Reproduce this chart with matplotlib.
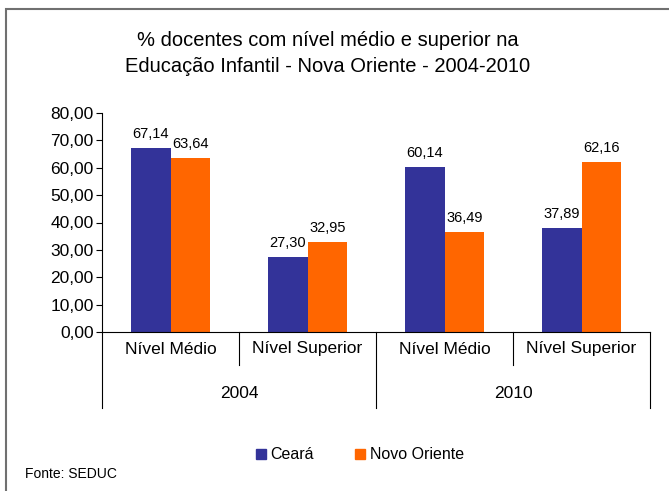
import matplotlib
matplotlib.use("Agg")
import matplotlib.pyplot as plt
from matplotlib.patches import Rectangle, Patch

plt.rcParams['font.family'] = ['Liberation Sans', 'DejaVu Sans']

# data
years = ['2004', '2010']
levels = ['Nível Médio', 'Nível Superior', 'Nível Médio', 'Nível Superior']
ceara = [67.14, 27.30, 60.14, 37.89]
novo_oriente = [63.64, 32.95, 36.49, 62.16]
series_names = ['Ceará', 'Novo Oriente']
yticks = [0, 10, 20, 30, 40, 50, 60, 70, 80]

blue = '#333399'
orange = '#FF6600'

def br(v, nd=2):
    return f'{v:.{nd}f}'.replace('.', ',')

fig = plt.figure(figsize=(6.69, 4.91), dpi=100)
ax = fig.add_axes([102 / 669, 1 - 332 / 491, 548 / 669, 219 / 491])

x = list(range(len(levels)))
w = 0.29
xb = [i - w / 2 for i in x]
xo = [i + w / 2 for i in x]
ax.bar(xb, ceara, width=w, color=blue)
ax.bar(xo, novo_oriente, width=w, color=orange)

for xi, v in zip(xb, ceara):
    ax.annotate(br(v), (xi, v), xytext=(0, 5), textcoords='offset points',
                ha='center', va='bottom', fontsize=10.5)
for xi, v in zip(xo, novo_oriente):
    ax.annotate(br(v), (xi, v), xytext=(0, 5), textcoords='offset points',
                ha='center', va='bottom', fontsize=10.5)

ax.set_xlim(-0.5, len(levels) - 0.5)
ax.set_ylim(0, 80)
ax.set_yticks(yticks)
ax.set_yticklabels([br(t) for t in yticks], fontsize=12.5)
ax.set_xticks([])
ax.tick_params(axis='y', direction='out', length=4, width=0.8, pad=2)
for s in ['top', 'right']:
    ax.spines[s].set_visible(False)
ax.spines['left'].set_linewidth(0.8)
ax.spines['bottom'].set_linewidth(0.8)

# two-level category axis
tr = ax.get_xaxis_transform()
inner_y = -33 / 219
outer_y = -76 / 219
for i in range(len(levels) + 1):
    b = i - 0.5
    yend = outer_y if i % 2 == 0 else inner_y
    ax.plot([b, b], [0, yend], transform=tr, color='black', lw=0.8, clip_on=False)
for i, lab in enumerate(levels):
    ax.text(i, -17 / 219, lab, transform=tr, ha='center', va='center', fontsize=12.5)
for j, yr in enumerate(years):
    ax.text(2 * j + 0.5, -62 / 219, yr, transform=tr, ha='center', va='center', fontsize=12.5)

fig.text(328 / 669, 1 - 40 / 491, '% docentes com nível médio e superior na',
         ha='center', va='center', fontsize=14.5)
fig.text(328 / 669, 1 - 66 / 491, 'Educação Infantil - Nova Oriente - 2004-2010',
         ha='center', va='center', fontsize=14.5)

handles = [Patch(color=blue, label=series_names[0]), Patch(color=orange, label=series_names[1])]
fig.legend(handles=handles, loc='center', bbox_to_anchor=(360 / 669, 1 - 455 / 491), ncol=2,
           frameon=False, fontsize=11.5, handlelength=0.6, handleheight=0.6,
           handletextpad=0.3, columnspacing=2.6)

fig.text(25 / 669, 1 - 474 / 491, 'Fonte: SEDUC', ha='left', va='center', fontsize=10)

fig.patches.append(Rectangle((6 / 669, -0.1), 1.2, 1.1 - 9 / 491, transform=fig.transFigure,
                             fill=False, edgecolor='#707070', lw=1.5))

fig.savefig('out.png', dpi=100)
